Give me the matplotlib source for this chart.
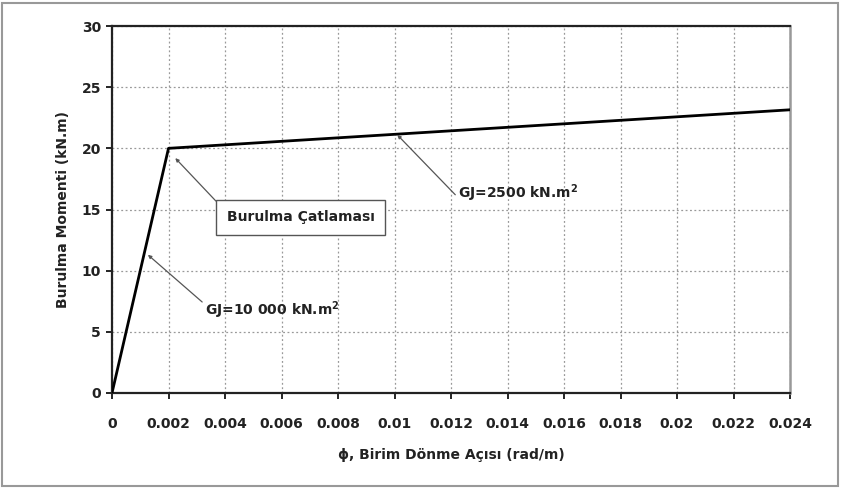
import matplotlib.pyplot as plt
from matplotlib.patches import Rectangle

plt.rcParams['font.family'] = ['DejaVu Sans']
plt.rcParams['mathtext.fontset'] = 'dejavusans'

# moment - rotation curve
phi = [0.0, 0.002, 0.024]
moment = [0.0, 20.0, 23.15]

x_ticks = [0, 0.002, 0.004, 0.006, 0.008, 0.01, 0.012, 0.014, 0.016, 0.018, 0.02, 0.022, 0.024]
x_labels = ["0", "0.002", "0.004", "0.006", "0.008", "0.01", "0.012", "0.014", "0.016", "0.018", "0.02", "0.022", "0.024"]
y_ticks = [0, 5, 10, 15, 20, 25, 30]

fig = plt.figure(figsize=(8.42, 4.88), dpi=100)
ax = fig.add_axes([112/842, 1-393/488, 678/842, 367/488])

ax.plot(phi, moment, color="black", lw=2.0, zorder=3)

ax.set_xlim(0, 0.024)
ax.set_ylim(0, 30)
ax.set_xticks(x_ticks)
ax.set_xticklabels(x_labels)
ax.set_yticks(y_ticks)
ax.grid(True, color="#999999", linestyle=(0, (1.5, 2)), lw=0.9)
ax.tick_params(direction="out", length=4.5, labelsize=10, width=1.2, pad=3.5)
ax.tick_params(axis="x", pad=13)
for lab in ax.get_xticklabels() + ax.get_yticklabels():
    lab.set_fontweight("bold")
    lab.set_color("#222222")

for side in ["left", "bottom", "top"]:
    ax.spines[side].set_color("#222222")
    ax.spines[side].set_linewidth(1.6)
ax.spines["right"].set_color("#999999")
ax.spines["right"].set_linewidth(1.8)

ax.set_xlabel("ϕ, Birim Dönme Açısı (rad/m)", fontsize=10, fontweight="bold", labelpad=12, color="#222222")
ax.set_ylabel("Burulma Momenti (kN.m)", fontsize=10, fontweight="bold", labelpad=8, color="#222222")

arrow = dict(arrowstyle="-|>", color="#555555", lw=0.9, mutation_scale=5, shrinkA=0, shrinkB=0)

ax.annotate("Burulma Çatlaması", xy=(0.00224, 19.2), xytext=(0.00668, 14.35),
            fontsize=10, fontweight="bold", color="#222222", ha="center", va="center",
            bbox=dict(boxstyle="square,pad=0.75", fc="white", ec="#555555", lw=1.0),
            arrowprops=dict(arrow, relpos=(0, 0.85)))
ax.annotate("GJ=10 000 kN.m$^{\\mathbf{2}}$", xy=(0.00127, 11.3), xytext=(0.00329, 6.8),
            fontsize=10, fontweight="bold", color="#222222", va="center",
            arrowprops=dict(arrow, relpos=(0, 0.75)))
ax.annotate("GJ=2500 kN.m$^{\\mathbf{2}}$", xy=(0.0101, 21.1), xytext=(0.01225, 16.35),
            fontsize=10, fontweight="bold", color="#222222", va="center",
            arrowprops=dict(arrow, relpos=(-0.02, 0.4)))

fig.patches.append(Rectangle((2/842, 2/488), 836/842, 483/488, transform=fig.transFigure,
                             fill=False, ec="#999999", lw=1.5))

fig.savefig("out.png", dpi=100)
